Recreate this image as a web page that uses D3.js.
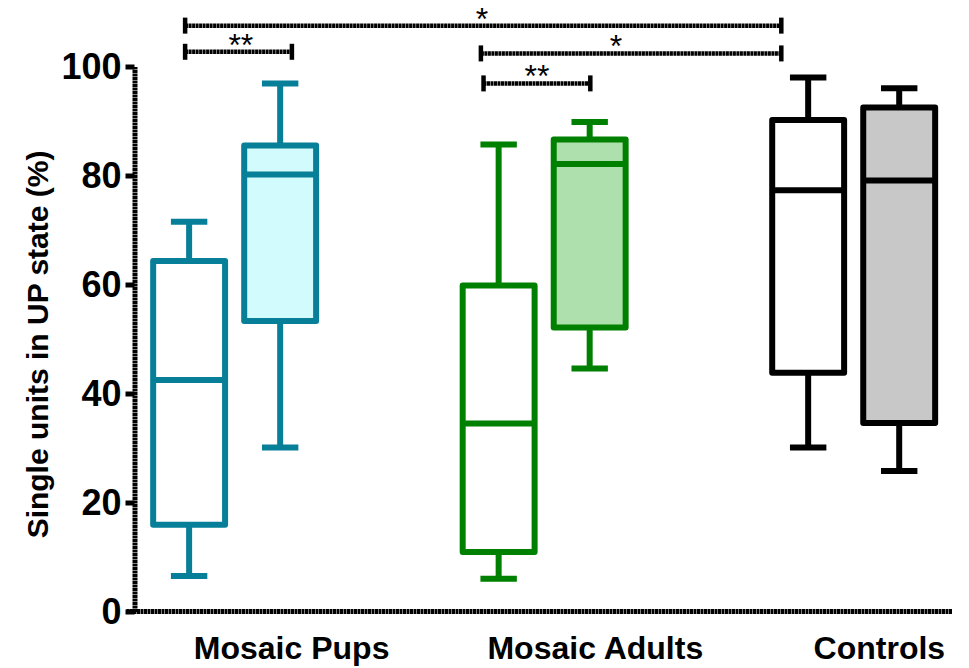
<!DOCTYPE html>
<html>
<head>
<meta charset="utf-8">
<script src="https://cdn.jsdelivr.net/npm/d3@7"></script>
<style>
  html, body { margin: 0; padding: 0; background: #fff; }
  svg { display: block; }
  text { font-family: "Liberation Sans", Arial, sans-serif; }
</style>
</head>
<body>
<svg id="chart" width="969" height="668"></svg>
<script>
// ---- data -------------------------------------------------------------
const groups = ["Mosaic Pups", "Mosaic Adults", "Controls"];
// six boxes: two per group (first: open box, second: filled box)
const boxGroup   = [0, 0, 1, 1, 2, 2];
const boxSlot    = [0, 1, 0, 1, 0, 1];
const whiskerLow = [6.5, 30.1, 6.0, 44.6, 30.1, 25.8];
const q1         = [15.9, 53.3, 10.9, 52.1, 43.8, 34.6];
const median     = [42.5, 80.2, 34.5, 82.1, 77.3, 79.1];
const q3         = [64.3, 85.5, 59.8, 86.6, 90.2, 92.5];
const whiskerHigh= [71.5, 96.9, 85.7, 89.8, 98.0, 96.0];
const yTicks     = [0, 20, 40, 60, 80, 100];
const yTitle     = "Single units in UP state (%)";

// significance brackets (positions along the box axis, level in % units)
const sigFrom  = [-0.044, -0.044, 3.205, 3.234];
const sigTo    = [6.505, 1.129, 6.505, 4.407];
const sigLevel = [107.5, 102.7, 102.4, 96.9];
const sigMark  = ["*", "**", "*", "**"];
const sigMarkAt= [3.216, 0.568, 4.689, 3.821];

// ---- styling ------------------------------------------------------------
const strokeCol = ["#077f98", "#077f98", "#008000", "#008000", "#000000", "#000000"];
const fillCol   = ["#ffffff", "#d2fbfd", "#ffffff", "#aee0ae", "#ffffff", "#c8c8c8"];
const groupStep = 3.4;               // spacing between groups, in box units
const labelPos  = [1.126, 4.462, 7.582];

const svg = d3.select("#chart");

const x = d3.scaleLinear().domain([-0.6, 8.38]).range([134.5, 952]);
const y = d3.scaleLinear().domain([0, 100]).range([611.5, 66.5]);

const halfW = (x(0.79) - x(0)) / 2;
const capW  = (x(0.4) - x(0)) / 2;
const boxes = d3.range(whiskerLow.length).map(i => ({
  pos: boxGroup[i] * groupStep + boxSlot[i],
  lo: whiskerLow[i], q1: q1[i], med: median[i], q3: q3[i], hi: whiskerHigh[i],
  stroke: strokeCol[i], fill: fillCol[i]
}));

// ---- axes ---------------------------------------------------------------
const texture = "3 0.5";

const yAxis = svg.append("g")
  .attr("transform", `translate(${x(-0.6)},0)`)
  .call(d3.axisLeft(y).tickValues(yTicks).tickSize(9).tickSizeOuter(0).tickPadding(4));
yAxis.select(".domain").attr("stroke", "#000").attr("stroke-width", 5)
  .attr("stroke-dasharray", texture);
yAxis.selectAll(".tick line").attr("stroke", "#000").attr("stroke-width", 5);
yAxis.selectAll(".tick text")
  .attr("fill", "#000")
  .attr("font-size", 36)
  .attr("font-weight", "bold")
  .attr("font-family", "'Liberation Sans', Arial, sans-serif");

const xAxis = svg.append("g")
  .attr("transform", `translate(0,${y(0)})`)
  .call(d3.axisBottom(x).tickValues([]).tickSizeOuter(0));
xAxis.select(".domain").attr("stroke", "#000").attr("stroke-width", 5)
  .attr("stroke-dasharray", texture)
  .attr("d", `M${x(-0.6) - 8},0H${x(8.38)}`);

// group labels
svg.append("g").selectAll("text").data(groups).join("text")
  .attr("x", (d, i) => x(labelPos[i]))
  .attr("y", 658.5)
  .attr("text-anchor", "middle")
  .attr("font-size", 32)
  .attr("font-weight", "bold")
  .attr("fill", "#000")
  .text(d => d);

// y title
svg.append("text")
  .attr("transform", `translate(48,${y(49)}) rotate(-90)`)
  .attr("text-anchor", "middle")
  .attr("font-size", 30)
  .attr("font-weight", "bold")
  .attr("fill", "#000")
  .text(yTitle);

// ---- box plots ------------------------------------------------------------
const bx = svg.append("g").selectAll("g").data(boxes).join("g");

// whiskers
bx.append("line")
  .attr("x1", d => x(d.pos)).attr("x2", d => x(d.pos))
  .attr("y1", d => y(d.q3)).attr("y2", d => y(d.hi))
  .attr("stroke", d => d.stroke).attr("stroke-width", 6);
bx.append("line")
  .attr("x1", d => x(d.pos)).attr("x2", d => x(d.pos))
  .attr("y1", d => y(d.q1)).attr("y2", d => y(d.lo))
  .attr("stroke", d => d.stroke).attr("stroke-width", 6);
// caps
bx.append("line")
  .attr("x1", d => x(d.pos) - capW).attr("x2", d => x(d.pos) + capW)
  .attr("y1", d => y(d.hi)).attr("y2", d => y(d.hi))
  .attr("stroke", d => d.stroke).attr("stroke-width", 6);
bx.append("line")
  .attr("x1", d => x(d.pos) - capW).attr("x2", d => x(d.pos) + capW)
  .attr("y1", d => y(d.lo)).attr("y2", d => y(d.lo))
  .attr("stroke", d => d.stroke).attr("stroke-width", 6);
// box
bx.append("rect")
  .attr("x", d => x(d.pos) - halfW)
  .attr("width", 2 * halfW)
  .attr("y", d => y(d.q3))
  .attr("height", d => y(d.q1) - y(d.q3))
  .attr("fill", d => d.fill)
  .attr("stroke", d => d.stroke)
  .attr("stroke-width", 6)
  .attr("stroke-linejoin", "round");
// median
bx.append("line")
  .attr("x1", d => x(d.pos) - halfW).attr("x2", d => x(d.pos) + halfW)
  .attr("y1", d => y(d.med)).attr("y2", d => y(d.med))
  .attr("stroke", d => d.stroke).attr("stroke-width", 6);

// ---- significance brackets -------------------------------------------------
const sig = svg.append("g").selectAll("g").data(d3.range(sigFrom.length)).join("g");
sig.append("line")
  .attr("x1", i => x(sigFrom[i])).attr("x2", i => x(sigTo[i]))
  .attr("y1", i => y(sigLevel[i])).attr("y2", i => y(sigLevel[i]))
  .attr("stroke", "#000").attr("stroke-width", 4.5)
  .attr("stroke-dasharray", texture);
[sigFrom, sigTo].forEach(ends => {
  sig.append("line")
    .attr("x1", i => x(ends[i])).attr("x2", i => x(ends[i]))
    .attr("y1", i => y(sigLevel[i]) - 8).attr("y2", i => y(sigLevel[i]) + 8)
    .attr("stroke", "#000").attr("stroke-width", 4.5);
});
sig.append("text")
  .attr("x", i => x(sigMarkAt[i]))
  .attr("y", i => y(sigLevel[i]) + 4)
  .attr("text-anchor", "middle")
  .attr("font-size", 32)
  .attr("fill", "#000")
  .text(i => sigMark[i]);
</script>
</body>
</html>
